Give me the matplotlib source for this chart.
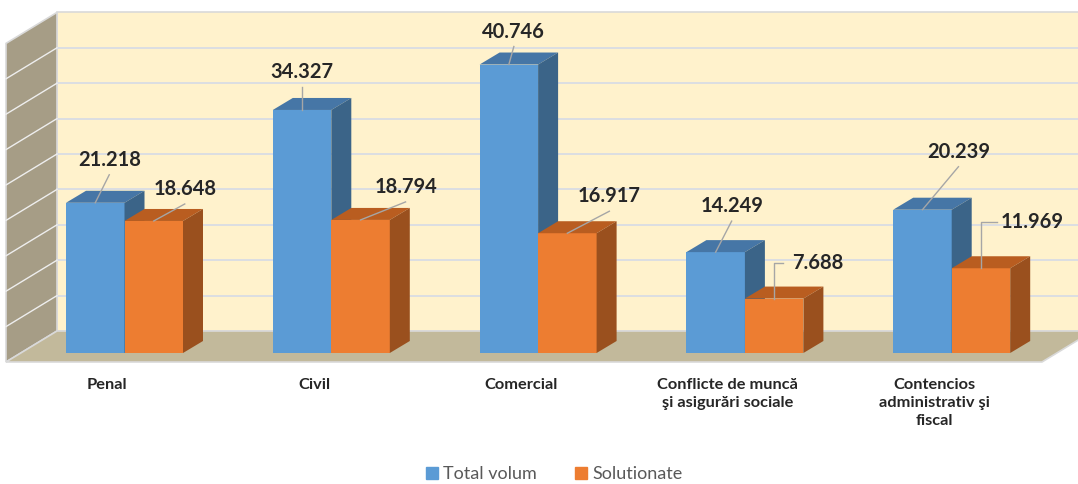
import numpy as np
import matplotlib.pyplot as plt
from matplotlib.patches import Polygon, Patch

plt.rcParams['font.family'] = ['Lato', 'DejaVu Sans']

# Chart data
categories = ['Penal', 'Civil', 'Comercial',
              'Conflicte de muncă\nşi asigurări sociale',
              'Contencios\nadministrativ şi\nfiscal']
total_volum = [21.218, 34.327, 40.746, 14.249, 20.239]
solutionate = [18.648, 18.794, 16.917, 7.688, 11.969]
series_names = ['Total volum', 'Solutionate']
y_max = 45
y_step = 5

# Pseudo-3D geometry (x in pixels, y in value units)
PX = 7.08                 # pixels per value unit
WALL_DX, WALL_DY = 51, 31 / PX
BAR_DX, BAR_DY = 20, 12 / PX
BAR_BASE = 9 / PX         # bar front face sits slightly behind the floor edge
FIRST_X, STEP, BAR_W = 66, 206.8, 58.5
FLOOR_L, FLOOR_R = 6, 1042

face_colors = [('#5b9bd5', '#4676a6', '#3b6488'),
               ('#ed7d31', '#b95d20', '#9a501e')]

# label placement, offsets in pixels from the top-front centre of each bar
label_offsets = [[(14, -43), (0, -38), (5, -33), (16, -46), (36, -58)],
                 [(31, -32), (45, -33), (42, -37), (44, -36), (51, -46)]]
elbow = [[False] * 5, [False, False, False, True, True]]

fig = plt.figure(figsize=(10.78, 4.84), dpi=100)
ax = fig.add_axes([0, 0, 1, 1])
ax.set_xlim(0, 1078)
ax.set_ylim(-122 / PX, 362 / PX)
ax.axis('off')

edge = '#d9d9d9'
# back wall
ax.add_patch(Polygon([(FLOOR_L + WALL_DX, WALL_DY), (FLOOR_R + WALL_DX + 60, WALL_DY),
                      (FLOOR_R + WALL_DX + 60, y_max + WALL_DY), (FLOOR_L + WALL_DX, y_max + WALL_DY)],
                     closed=True, fc='#fff2cc', ec=edge, lw=1.2, zorder=1))
# side wall
ax.add_patch(Polygon([(FLOOR_L, 0), (FLOOR_L + WALL_DX, WALL_DY),
                      (FLOOR_L + WALL_DX, y_max + WALL_DY), (FLOOR_L, y_max)],
                     closed=True, fc='#a69d86', ec=edge, lw=1.2, zorder=1))
# floor
ax.add_patch(Polygon([(FLOOR_L, 0), (FLOOR_R, 0), (FLOOR_R + WALL_DX, WALL_DY),
                      (FLOOR_L + WALL_DX, WALL_DY)],
                     closed=True, fc='#c2b99b', ec=edge, lw=1.2, zorder=2))

# gridlines
for v in np.arange(y_step, y_max, y_step):
    ax.plot([FLOOR_L + WALL_DX, 1100], [v + WALL_DY, v + WALL_DY], color='#d6dbe6', lw=1.2, zorder=1.5)
    ax.plot([FLOOR_L, FLOOR_L + WALL_DX], [v, v + WALL_DY], color='#eeeeee', lw=1.0, zorder=1.5)


def draw_bar(xl, val, colors):
    front, top, side = colors
    b = BAR_BASE
    ax.add_patch(Polygon([(xl, b), (xl + BAR_W, b), (xl + BAR_W, b + val), (xl, b + val)],
                         closed=True, fc=front, ec='none', zorder=3))
    ax.add_patch(Polygon([(xl, b + val), (xl + BAR_W, b + val),
                          (xl + BAR_W + BAR_DX, b + val + BAR_DY), (xl + BAR_DX, b + val + BAR_DY)],
                         closed=True, fc=top, ec='none', zorder=3))
    ax.add_patch(Polygon([(xl + BAR_W, b), (xl + BAR_W + BAR_DX, b + BAR_DY),
                          (xl + BAR_W + BAR_DX, b + val + BAR_DY), (xl + BAR_W, b + val)],
                         closed=True, fc=side, ec='none', zorder=3))


for i, cat in enumerate(categories):
    for s, values in enumerate([total_volum, solutionate]):
        xl = FIRST_X + i * STEP + s * BAR_W
        val = values[i]
        draw_bar(xl, val, face_colors[s])

        ax_x, ax_y = xl + BAR_W / 2, BAR_BASE + val
        dx, dy = label_offsets[s][i]
        lx, ly = ax_x + dx, ax_y - dy / PX
        ax.text(lx, ly, f'{val:.3f}', ha='center', va='center', fontsize=14.5,
                fontweight='bold', color='#262626', zorder=5)
        if elbow[s][i]:
            ax.plot([lx - 35, ax_x, ax_x], [ly, ly, ax_y], color='#a6a6a6', lw=1, zorder=4)
        else:
            ax.plot([lx, ax_x], [ly - 15 / PX, ax_y], color='#a6a6a6', lw=1, zorder=4)

    ax.text(FIRST_X + i * STEP + BAR_W / 2 + 12, -16 / PX, cat, ha='center', va='top',
            fontsize=11.8, fontweight='bold', color='#262626', linespacing=1.35)

handles = [Patch(color=face_colors[0][0]), Patch(color=face_colors[1][0])]
ax.legend(handles, series_names, loc='center', bbox_to_anchor=(0.514, 0.02), ncol=2,
          frameon=False, fontsize=13, handlelength=0.65, handleheight=0.65,
          handletextpad=0.3, columnspacing=2.1, labelcolor='#595959',
          borderpad=0.1, borderaxespad=0)

fig.savefig('out.png', dpi=100)
